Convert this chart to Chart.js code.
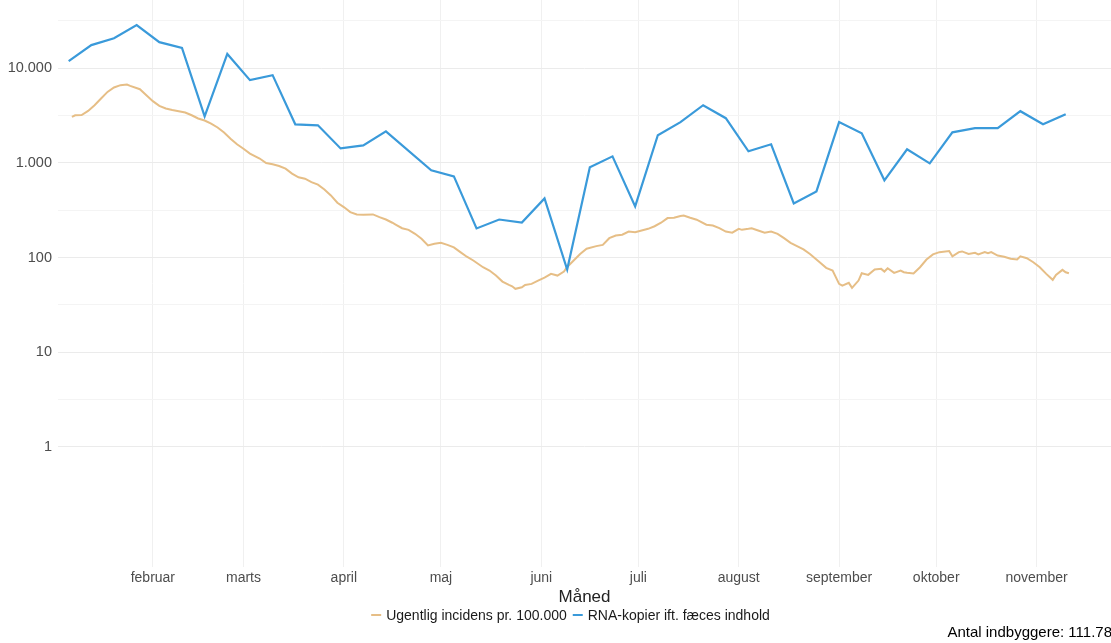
<!DOCTYPE html>
<html>
<head>
<meta charset="utf-8">
<script src="https://cdn.jsdelivr.net/npm/chart.js@4"></script>
<style>
  html, body { margin: 0; padding: 0; background: #fff; }
</style>
</head>
<body>
<canvas id="chart" width="1111" height="643"></canvas>
<script>
// dag i året og værdier
const incidensDage = [7, 8, 10, 12, 14, 16, 18, 20, 22, 24, 25, 28, 30, 32, 34, 36, 38, 40, 42, 44,
  46, 48, 50, 52, 54, 56, 58, 60, 62, 65, 67, 69, 71, 73, 75, 77, 79, 81, 83, 85,
  87, 89, 91, 93, 95, 97, 100, 102, 104, 106, 107, 109, 111, 113, 115, 117, 119, 121, 123, 125,
  127, 129, 131, 134, 136, 138, 140, 142, 143, 144, 146, 147, 149, 151, 153, 155, 157, 159, 160, 162,
  164, 166, 169, 171, 173, 175, 177, 179, 181, 183, 185, 187, 189, 191, 193, 195, 196, 198, 200, 203,
  205, 207, 209, 211, 213, 214, 216, 217, 219, 221, 223, 225, 227, 229, 231, 233, 235, 238, 240, 242,
  244, 245, 247, 248, 250, 251, 253, 255, 257, 258, 259, 261, 263, 264, 265, 267, 269, 271, 273, 275,
  278, 279, 281, 282, 284, 286, 287, 289, 290, 291, 293, 295, 297, 299, 300, 302, 304, 306, 308, 310,
  311, 313, 314, 315];
const incidensVaerdier = [3050, 3180, 3200, 3530, 4060, 4780, 5610, 6250, 6610, 6720, 6500, 5990, 5180, 4480, 3990, 3750, 3620, 3510, 3400, 3180,
  2940, 2800, 2600, 2360, 2090, 1800, 1570, 1410, 1250, 1110, 995, 964, 925, 868, 769, 703, 680, 626, 588, 524,
  453, 379, 341, 302, 285, 283, 285, 267, 252, 233, 223, 204, 196, 178, 158, 134, 140, 143, 136, 128,
  114, 102, 93, 79, 72.9, 64.5, 55.7, 51.4, 49.7, 46.7, 48.5, 51.4, 52.7, 57.1, 61.4, 67.2, 64.5, 71.1, 79.4, 93,
  109, 124, 132, 136, 160, 171, 174, 188, 185, 193, 201, 214, 233, 261, 263, 274, 278, 263, 251, 222,
  218, 204, 188, 183, 201, 196, 201, 204, 193, 183, 188, 178, 160, 143, 132, 122, 109, 89.2, 77.8, 72.9,
  52.7, 50.5, 54.0, 47.8, 57.1, 68.2, 65.6, 74.6, 75.9, 71.1, 77.1, 68.9, 72.9, 69.9, 68.9, 67.7, 79.0, 95.3, 108, 114,
  117, 103, 114, 116, 109, 112, 108, 114, 111, 114, 105, 102, 96.9, 95.3, 103, 98.3, 89.2, 79.0, 67.2, 58.1,
  65.6, 74.1, 69.9, 68.2];

const rnaDage = [6, 13, 20, 27, 34, 41, 48, 55, 62, 69, 76, 83, 90, 97, 104, 118, 125, 132, 139, 146,
  153, 160, 167, 174, 181, 188, 195, 202, 209, 216, 223, 230, 237, 244, 251, 258, 265, 272, 279, 286,
  293, 300, 307, 314];
const rnaVaerdier = [11850, 17500, 20700, 28500, 18800, 16300, 3100, 14100, 7470, 8430, 2550, 2490, 1420, 1530, 2150, 834, 720, 203, 252, 234,
  421, 74.6, 896, 1170, 347, 1955, 2690, 4060, 2960, 1325, 1570, 372, 499, 2690, 2050, 653, 1390, 988, 2100, 2320,
  2320, 3510, 2550, 3260];

const maanedStart = [32, 60, 91, 121, 152, 182, 213, 244, 274, 305];
const maanedNavne = ['februar', 'marts', 'april', 'maj', 'juni', 'juli', 'august', 'september', 'oktober', 'november'];

const yTicks = [1, 10, 100, 1000, 10000];
const yTickLabels = ['1', '10', '100', '1.000', '10.000'];
const yMinorTicks = [3.1623, 31.623, 316.23, 3162.3, 31623];

const serieNavne = ['Ugentlig incidens pr. 100.000', 'RNA-kopier ift. fæces indhold'];
const xTitel = 'Måned';
const fodnote = 'Antal indbyggere: 111.78';

const fontFamily = '"Liberation Sans", Arial, sans-serif';

const toPoints = (xs, ys) => xs.map((x, i) => ({ x: x, y: ys[i] }));

// legend og fodnote tegnes under x-aksen
const bundTekst = {
  id: 'bundTekst',
  afterDraw(chart) {
    const ctx = chart.ctx;
    ctx.save();
    ctx.font = '14px ' + fontFamily;
    ctx.textBaseline = 'middle';
    const keyW = 10, keyGap = 5, itemGap = 6;
    const items = chart.data.datasets.map(ds => ({
      text: ds.label, color: ds.borderColor, w: ctx.measureText(ds.label).width
    }));
    let total = items.reduce((s, it) => s + keyW + keyGap + it.w, 0) + itemGap * (items.length - 1);
    let x = 570.5 - total / 2;
    const y = 615;
    items.forEach(it => {
      ctx.strokeStyle = it.color;
      ctx.lineWidth = 2;
      ctx.beginPath();
      ctx.moveTo(x, y);
      ctx.lineTo(x + keyW, y);
      ctx.stroke();
      ctx.fillStyle = '#1a1a1a';
      ctx.textAlign = 'left';
      ctx.fillText(it.text, x + keyW + keyGap, y + 1);
      x += keyW + keyGap + it.w + itemGap;
    });
    ctx.font = '15px ' + fontFamily;
    ctx.fillStyle = '#000';
    ctx.textAlign = 'right';
    ctx.fillText(fodnote, 1112, 633);
    ctx.restore();
  }
};

const ctx = document.getElementById('chart').getContext('2d');
new Chart(ctx, {
  type: 'line',
  data: {
    datasets: [
      {
        label: serieNavne[0],
        data: toPoints(incidensDage, incidensVaerdier),
        borderColor: '#E6BE86',
        borderWidth: 2,
        pointRadius: 0,
        tension: 0,
        order: 1
      },
      {
        label: serieNavne[1],
        data: toPoints(rnaDage, rnaVaerdier),
        borderColor: '#3A9ADA',
        borderWidth: 2.2,
        pointRadius: 0,
        tension: 0,
        order: 0
      }
    ]
  },
  options: {
    responsive: false,
    animation: false,
    layout: { autoPadding: false, padding: { top: 0, right: 0, bottom: 37, left: 0 } },
    plugins: {
      legend: { display: false },
      tooltip: { enabled: false }
    },
    scales: {
      x: {
        type: 'linear',
        min: 2.7,
        max: 328,
        afterBuildTicks: (scale) => {
          scale.ticks = maanedStart.map(v => ({ value: v }));
        },
        afterFit: (scale) => { scale.paddingLeft = 0; scale.paddingRight = 0; },
        ticks: {
          autoSkip: false,
          maxRotation: 0,
          padding: 3,
          color: '#4d4d4d',
          font: { size: 14, family: fontFamily },
          callback: (v) => maanedNavne[maanedStart.indexOf(v)]
        },
        grid: { color: '#f0f0f0', drawTicks: false },
        border: { display: false },
        title: {
          display: true,
          text: xTitel,
          color: '#222',
          font: { size: 17, family: fontFamily, lineHeight: 1.0 },
          padding: { top: -1, bottom: 0 }
        }
      },
      y: {
        type: 'logarithmic',
        min: 0.0537,
        max: 52400,
        afterBuildTicks: (scale) => {
          scale.ticks = yTicks.concat(yMinorTicks).sort((a, b) => a - b).map(v => ({ value: v }));
        },
        afterFit: (scale) => {
          scale.width = 58;
          scale.paddingTop = 0;
          scale.paddingBottom = 0;
        },
        ticks: {
          padding: 6,
          color: '#4d4d4d',
          font: { size: 14.5, family: fontFamily },
          callback: (v) => {
            const i = yTicks.indexOf(v);
            return i >= 0 ? yTickLabels[i] : '';
          }
        },
        grid: {
          drawTicks: false,
          color: (c) => (c.tick && yTicks.includes(c.tick.value)) ? '#ebebeb' : '#f4f4f4'
        },
        border: { display: false }
      }
    }
  },
  plugins: [bundTekst]
});
</script>
</body>
</html>
